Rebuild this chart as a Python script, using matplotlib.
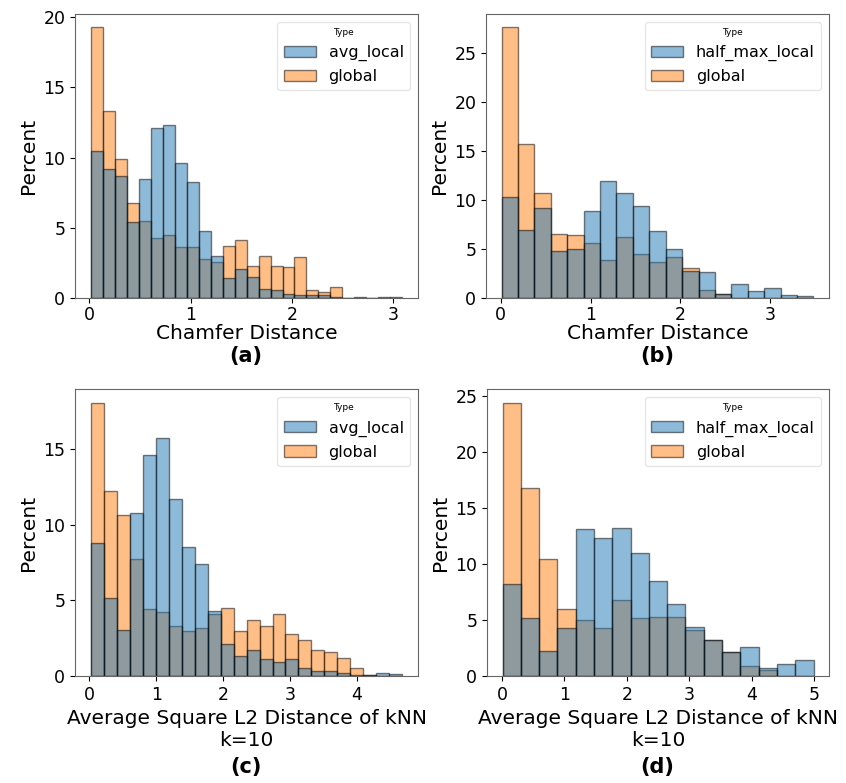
import numpy as np
import matplotlib.pyplot as plt
from matplotlib.ticker import MultipleLocator

BLUE = "#1f77b4"
ORANGE = "#ff7f0e"

# (a) Chamfer distance, avg_local vs global -- 26 bins
A_RANGE = (0.015, 3.09)
A_LOCAL = [10.5, 9.2, 8.7, 5.4, 8.5, 12.1, 12.3, 9.6, 8.3, 4.8, 3.0, 1.4, 2.1,
           1.5, 0.66, 0.55, 0.3, 0.2, 0.2, 0.2, 0.1, 0.0, 0.05, 0.0, 0.05, 0.05]
A_GLOBAL = [19.3, 13.3, 9.9, 6.8, 5.5, 4.3, 4.5, 3.6, 3.6, 2.8, 2.6, 3.7, 4.1,
            2.3, 3.0, 2.3, 2.2, 2.9, 0.6, 0.4, 0.75, 0.0, 0.0, 0.0, 0.0, 0.0]

# (b) Chamfer distance, half_max_local vs global -- 19 bins
B_RANGE = (0.01, 3.48)
B_LOCAL = [10.3, 6.95, 9.15, 4.8, 5.0, 8.9, 11.9, 10.7, 9.4, 6.8, 5.0, 2.8,
           2.7, 0.45, 1.45, 0.7, 1.05, 0.3, 0.2]
B_GLOBAL = [27.6, 15.7, 10.7, 6.5, 6.4, 5.6, 3.9, 6.2, 4.5, 3.7, 4.2, 3.05,
            0.85, 0.45, 0.0, 0.0, 0.0, 0.0, 0.0]

# (c) kNN distance, avg_local vs global -- 24 bins
C_RANGE = (0.02, 4.68)
C_LOCAL = [8.8, 5.15, 3.05, 10.75, 14.6, 15.7, 11.7, 8.5, 7.4, 4.3, 2.1, 1.3,
           1.7, 1.15, 0.95, 1.15, 0.5, 0.3, 0.3, 0.2, 0.05, 0.05, 0.2, 0.1]
C_GLOBAL = [18.05, 12.2, 10.6, 7.7, 4.4, 4.2, 3.3, 2.95, 3.2, 4.1, 4.5, 3.0,
            3.7, 3.3, 4.1, 2.75, 2.4, 1.7, 1.6, 1.2, 0.5, 0.05, 0.0, 0.0]

# (d) kNN distance, half_max_local vs global -- 17 bins
D_RANGE = (0.01, 4.99)
D_LOCAL = [8.25, 5.2, 2.25, 4.3, 13.1, 12.35, 13.25, 11.0, 8.45, 6.45, 4.35,
           3.25, 2.1, 2.55, 0.7, 1.1, 1.45]
D_GLOBAL = [24.4, 16.75, 10.4, 6.0, 5.0, 4.25, 6.75, 5.2, 5.3, 5.3, 4.1, 3.2,
            2.1, 0.85, 0.55, 0.0, 0.0]

KNN_LABEL = "Average Square L2 Distance of kNN\nk=10"


def draw_hist(ax, rng, local, glob, local_name, xlabel, labelpad, tickpad):
    edges = np.linspace(rng[0], rng[1], len(local) + 1)
    widths = np.diff(edges)
    # seaborn "layer" style: global underneath, local on top, alpha .5
    ax.bar(edges[:-1], glob, width=widths, align="edge", color=ORANGE,
           alpha=0.5, edgecolor="black", linewidth=1.0, label="global")
    ax.bar(edges[:-1], local, width=widths, align="edge", color=BLUE,
           alpha=0.5, edgecolor="black", linewidth=1.0, label=local_name)
    ax.yaxis.set_major_locator(MultipleLocator(5))
    ax.xaxis.set_major_locator(MultipleLocator(1))
    ax.set_ylabel("Percent", fontsize=14.5)
    ax.set_xlabel(xlabel, fontsize=14.5, labelpad=labelpad)
    ax.tick_params(labelsize=12.5)
    ax.tick_params(axis="x", pad=tickpad)
    for sp in ax.spines.values():
        sp.set_edgecolor("0.4")
    handles, labels = ax.get_legend_handles_labels()
    leg = ax.legend(handles[::-1], labels[::-1], title="Type", fontsize=11.5,
                    title_fontsize=6.5, loc="upper right")
    leg.get_frame().set_edgecolor("0.88")


def main():
    fig = plt.figure(figsize=(8.46, 7.83), dpi=100)

    ax_a = fig.add_axes([0.0887, 0.6194, 0.4054, 0.3633])
    ax_b = fig.add_axes([0.5745, 0.6194, 0.4054, 0.3633])
    ax_c = fig.add_axes([0.0887, 0.1367, 0.4054, 0.3665])
    ax_d = fig.add_axes([0.5757, 0.1367, 0.4043, 0.3665])

    draw_hist(ax_a, A_RANGE, A_LOCAL, A_GLOBAL, "avg_local", "Chamfer Distance", 0, 2.5)
    draw_hist(ax_b, B_RANGE, B_LOCAL, B_GLOBAL, "half_max_local", "Chamfer Distance", 0, 2.5)
    draw_hist(ax_c, C_RANGE, C_LOCAL, C_GLOBAL, "avg_local", KNN_LABEL, 4, 3.5)
    draw_hist(ax_d, D_RANGE, D_LOCAL, D_GLOBAL, "half_max_local", KNN_LABEL, 4, 3.5)

    for x, y, tag in [(246, 356, "(a)"), (657, 356, "(b)"),
                      (246, 767, "(c)"), (657, 767, "(d)")]:
        fig.text(x / 846, 1 - y / 783, tag, ha="center", va="center",
                 fontsize=15, fontweight="bold")

    fig.savefig("out.png", dpi=100)
    plt.close(fig)


if __name__ == "__main__":
    main()
